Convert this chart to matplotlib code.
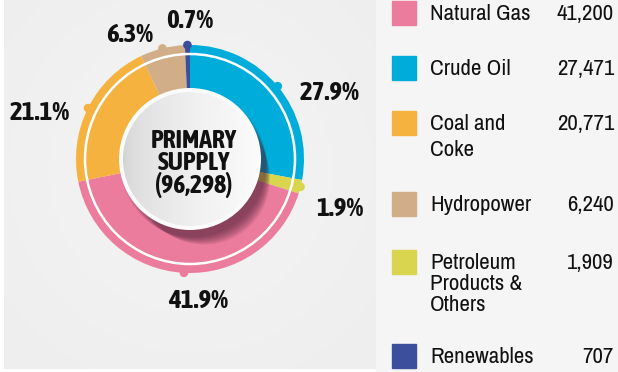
import matplotlib.pyplot as plt
import matplotlib.patches as mpatches
from matplotlib import font_manager as fm
import numpy as np

# energy supply by source (ordered clockwise from 12 o'clock on the ring)
ring_sources = ['Crude Oil', 'Petroleum Products & Others', 'Natural Gas',
                'Coal and Coke', 'Hydropower', 'Renewables']
ring_values = [27471, 1909, 41200, 20771, 6240, 707]
ring_colors = ['#00acd9', '#d9d54e', '#ec7c9e', '#f5b23f', '#d1ae88', '#3b4f9c']

# legend rows, top to bottom
legend_labels = ['Natural Gas', 'Crude Oil', 'Coal and\nCoke', 'Hydropower',
                 'Petroleum\nProducts &\nOthers', 'Renewables']
legend_values = ['41,200', '27,471', '20,771', '6,240', '1,909', '707']
legend_colors = ['#ec7c9e', '#00acd9', '#f5b23f', '#d1ae88', '#d9d54e', '#3b4f9c']
legend_rows = [13, 68, 123, 204, 262, 356]
legend_steps = [0, 0, 26, 0, 21, 0]

center_title = 'PRIMARY\nSUPPLY\n(96,298)'

# pick a narrow sans face, preferring one that also ships a bold weight
narrow = {}
for f in fm.fontManager.ttflist:
    if 'Narrow' in f.name or 'Condensed' in f.name:
        w = f.weight if isinstance(f.weight, int) else fm.weight_dict.get(f.weight, 400)
        narrow.setdefault(f.name, set()).add(w)
font_name = 'Roboto'
bold_name = 'Roboto'
if narrow:
    plain = [n for n, ws in narrow.items() if 400 in ws]
    font_name = plain[0] if plain else sorted(narrow)[0]
    bold = [n for n, ws in narrow.items() if max(ws) >= 600]
    bold_name = bold[0] if bold else font_name
plt.rcParams['font.family'] = [font_name, 'DejaVu Sans']

W, H = 618, 372
fig = plt.figure(figsize=(W / 100, H / 100), dpi=100)
ax = fig.add_axes([0, 0, 1, 1])


def py(y):
    # pixel row (from top) to data y
    return H - y


# panels
ax.add_patch(mpatches.Rectangle((0, 0), W, H, color='white', zorder=0))
ax.add_patch(mpatches.Rectangle((376, 0), W - 376, H, color='#f5f5f5', zorder=0))

# soft light glow behind the ring
yy, xx = np.mgrid[0:369, 4:376]
glow = np.clip(np.hypot(xx - 190, yy - 170) / 260, 0, 1)
img = 0.955 - 0.025 * glow
ax.imshow(img, extent=(4, 376, py(369), py(0)), cmap='gray', vmin=0, vmax=1,
          zorder=0.5, aspect='auto', interpolation='bilinear')

cx, cy = 190, py(159)
R = 114

ax.pie(ring_values, colors=ring_colors, startangle=90, counterclock=False,
       center=(cx, cy), radius=R, frame=True,
       wedgeprops=dict(linewidth=0, zorder=2))
ax.set_xlim(0, W)
ax.set_ylim(0, H)
ax.set_aspect('equal')
ax.axis('off')

# dots on the outer rim at each slice midpoint
total = sum(ring_values)
fracs = np.array(ring_values) / total
mids = 90 - 360 * (np.cumsum(fracs) - fracs / 2)
for ang, c in zip(mids, ring_colors):
    a = np.radians(ang)
    ax.add_patch(mpatches.Circle((cx + R * np.cos(a), cy + R * np.sin(a)), 3.6,
                                 color=c, zorder=3))

# thin white ring inside
ax.add_patch(mpatches.Circle((cx, cy), 105, fill=False, ec='white', lw=1.8, zorder=4))

# shadow of the centre disc
for k in range(14):
    ax.add_patch(mpatches.Circle((cx + 3 + k * 0.9, cy - 5 - k * 1.2), 73 - k * 0.6,
                                 color='#4a1f33', alpha=0.06, lw=0, zorder=5))

# centre disc: bright rim, then a grey-to-white gradient face
ax.add_patch(mpatches.Circle((cx, cy), 71, color='#fbfbfb', zorder=6, lw=0))
face = mpatches.Circle((cx, cy), 67, color='white', zorder=6.2, lw=0)
ax.add_patch(face)
gx = np.linspace(0, 1, 100)
grad = np.tile(0.82 + 0.16 * np.sqrt(gx), (100, 1))
im = ax.imshow(grad, extent=(cx - 67, cx + 67, cy - 67, cy + 67), cmap='gray',
               vmin=0, vmax=1, zorder=6.5, aspect='auto', interpolation='bilinear')
im.set_clip_path(face)
ax.text(cx + 4, py(163), center_title, ha='center', va='center', fontsize=18.5,
        fontweight='bold', family=[bold_name, 'DejaVu Sans'], linespacing=0.85,
        color='#111111', zorder=8)

# percentage labels
pct_pos = [(330, 92), (340, 208), (198, 301), (40, 112), (130, 35), (190, 20)]
for v, (x, y) in zip(ring_values, pct_pos):
    ax.text(x, py(y), f'{100 * v / total:.1f}%', ha='center', va='center',
            fontsize=19.5, fontweight='bold', family=[bold_name, 'DejaVu Sans'],
            color='#111111', zorder=8)

# legend
for lab, val, c, y, step in zip(legend_labels, legend_values, legend_colors,
                                legend_rows, legend_steps):
    ax.add_patch(mpatches.Rectangle((392, py(y + 12)), 24, 24, color=c, zorder=2))
    for i, line in enumerate(lab.split('\n')):
        ax.text(430, py(y + 1 + i * step), line, ha='left', va='center',
                fontsize=16.5, color='#111111')
    ax.text(614, py(y + 1), val, ha='right', va='center', fontsize=16.5, color='#111111')

fig.savefig('out.png', dpi=100)
